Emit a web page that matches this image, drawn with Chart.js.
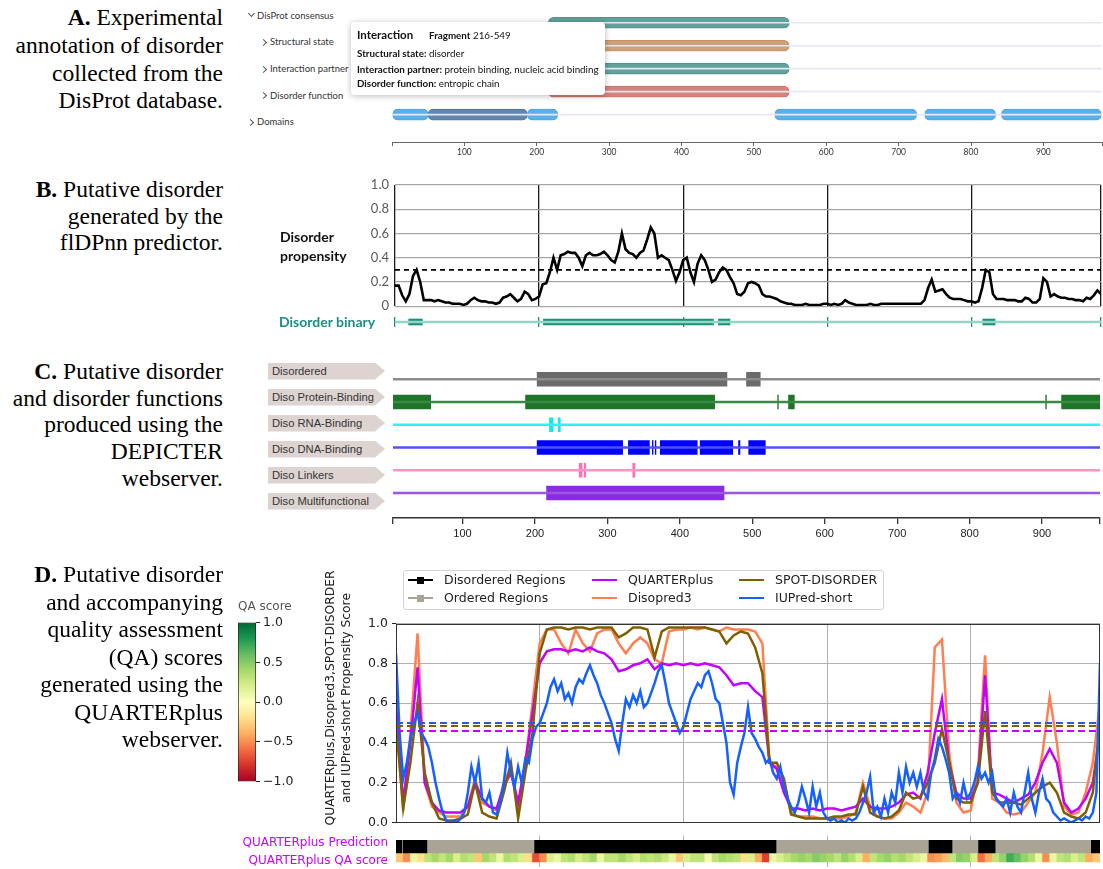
<!DOCTYPE html>
<html><head><meta charset="utf-8"><title>Disorder annotation panels</title>
<script src="https://cdn.jsdelivr.net/npm/chart.js@4.4.1/dist/chart.umd.min.js"></script>
<style>
html,body{margin:0;padding:0;background:#fff;}
#page{position:relative;width:1103px;height:869px;overflow:hidden;background:#fff;}
#charts canvas{position:absolute;}
.ov{position:absolute;z-index:2;white-space:nowrap;}
.cap{position:absolute;z-index:2;left:0;width:223px;text-align:right;font-family:"Liberation Serif","Times New Roman",serif;font-size:23.5px;color:#000;white-space:nowrap;}
.alab{font-family:Lato,sans-serif;font-size:9.5px;color:#333;height:12px;line-height:12px;}
.chev{position:absolute;z-index:2;width:4px;height:4px;border-right:1.2px solid #555;border-bottom:1.2px solid #555;}
.down{transform:rotate(45deg);} .right{transform:rotate(-45deg);}
#tip{position:absolute;z-index:3;left:351px;top:22px;width:254px;height:73px;background:#fff;border-radius:4px;box-shadow:0 1px 6px rgba(0,0,0,0.28);font-family:Lato,sans-serif;color:#111;}
#tip div{position:absolute;left:6px;white-space:nowrap;font-size:9.8px;height:12px;line-height:12px;}
.blab{font-family:Lato,sans-serif;font-weight:bold;font-size:14px;color:#111;}
.cbox{position:absolute;z-index:2;left:268px;width:117px;height:17px;background:#ddd4d1;clip-path:polygon(0 0,107px 0,117px 50%,107px 100%,0 100%);font-family:"Liberation Sans",Arial,sans-serif;font-size:11.2px;color:#333;line-height:17px;padding-left:4px;box-sizing:border-box;white-space:nowrap;}
.dl{font-family:"DejaVu Sans",sans-serif;font-size:12.5px;color:#222;height:16px;line-height:16px;}
#leg{position:absolute;z-index:2;left:403px;top:570px;width:481px;height:40px;border:1px solid #d4d4d4;border-radius:3px;box-sizing:border-box;background:#fff;}
.lh{position:absolute;z-index:3;height:2px;width:25px;}
.lm{position:absolute;z-index:3;width:7px;height:7px;}
.strip{font-family:"DejaVu Sans",sans-serif;font-size:12px;color:#cc00ff;height:16px;line-height:16px;text-align:right;}
</style></head>
<body><div id="page"><div id="charts"></div>

<div class="cap" style="top:4px;line-height:27.8px"><b>A.</b> Experimental<br>annotation of disorder<br>collected from the<br>DisProt database.</div>
<div class="cap" style="top:176px;line-height:26.7px"><b>B.</b> Putative disorder<br>generated by the<br>flDPnn predictor.</div>
<div class="cap" style="top:358px;line-height:26.7px"><b>C.</b> Putative disorder<br>and disorder functions<br>produced using the<br>DEPICTER<br>webserver.</div>
<div class="cap" style="top:561px;line-height:27.5px"><b>D.</b> Putative disorder<br>and accompanying<br>quality assessment<br>(QA) scores<br>generated using the<br>QUARTERplus<br>webserver.</div>

<!-- Panel A row labels -->
<div class="chev down" style="left:249px;top:11px"></div>
<div class="ov alab" style="left:257px;top:9.5px">DisProt consensus</div>
<div class="chev right" style="left:261px;top:40px"></div>
<div class="ov alab" style="left:270px;top:36px">Structural state</div>
<div class="chev right" style="left:261px;top:67px"></div>
<div class="ov alab" style="left:270px;top:63px">Interaction partner</div>
<div class="chev right" style="left:261px;top:93px"></div>
<div class="ov alab" style="left:270px;top:89.5px">Disorder function</div>
<div class="chev right" style="left:248px;top:120px"></div>
<div class="ov alab" style="left:257px;top:116px">Domains</div>

<div id="tip">
  <div style="top:6px;font-size:11.5px;font-weight:bold;height:14px;line-height:14px">Interaction</div>
  <div style="left:78px;top:7px"><b>Fragment</b> 216-549</div>
  <div style="top:25px"><b>Structural state:</b> disorder</div>
  <div style="top:41px"><b>Interaction partner:</b> protein binding, nucleic acid binding</div>
  <div style="top:55px"><b>Disorder function:</b> entropic chain</div>
</div>

<!-- Panel B labels -->
<div class="ov blab" style="left:280px;top:227px;line-height:19px">Disorder<br>propensity</div>
<div class="ov blab" style="left:279px;top:313px;color:#1a8f82;line-height:17px">Disorder binary</div>

<!-- Panel C labels -->
<div class="cbox" style="top:362.5px">Disordered</div>
<div class="cbox" style="top:388.5px">Diso Protein-Binding</div>
<div class="cbox" style="top:414.5px">Diso RNA-Binding</div>
<div class="cbox" style="top:440.5px">Diso DNA-Binding</div>
<div class="cbox" style="top:466.5px">Diso Linkers</div>
<div class="cbox" style="top:492.5px">Diso Multifunctional</div>

<!-- Panel D labels -->
<div class="ov dl" style="left:238px;top:598px;color:#555;font-size:12px">QA score</div>
<div class="ov dl" style="left:168px;top:682px;width:340px;height:32px;text-align:center;transform:rotate(-90deg);transform-origin:center;font-size:12.3px">QUARTERplus,Disopred3,SPOT-DISORDER<br>and IUPred-short Propensity Score</div>
<div class="ov strip" style="right:715px;top:834px">QUARTERplus Prediction</div>
<div class="ov strip" style="right:715px;top:852px">QUARTERplus QA score</div>

<div id="leg"></div>
<div class="lh" style="left:408px;top:579px;background:#000"></div><div class="lm" style="left:417px;top:576.5px;background:#000"></div>
<div class="ov dl" style="left:444px;top:572px">Disordered Regions</div>
<div class="lh" style="left:408px;top:597px;background:#a9a496"></div><div class="lm" style="left:417px;top:594.5px;background:#a9a496"></div>
<div class="ov dl" style="left:444px;top:590px">Ordered Regions</div>
<div class="lh" style="left:592px;top:579px;background:#c400ff"></div>
<div class="ov dl" style="left:628px;top:572px">QUARTERplus</div>
<div class="lh" style="left:592px;top:597px;background:#ff7f50"></div>
<div class="ov dl" style="left:628px;top:590px">Disopred3</div>
<div class="lh" style="left:739px;top:579px;background:#7f6000"></div>
<div class="ov dl" style="left:775px;top:572px">SPOT-DISORDER</div>
<div class="lh" style="left:739px;top:597px;background:#1560ff"></div>
<div class="ov dl" style="left:775px;top:590px">IUPred-short</div>

</div>
<script>
// ===================== DATA =====================
// Panel A (DisProt)
const A_MAX = 981;
const A_ROWS = ['DisProt consensus','Structural state','Interaction partner','Disorder function','Domains'];
const A_FRAGMENT = [216, 549];
const A_DOMAINS_LIGHT = [[1,50],[187,229],[529,725],[736,834],[842,980]];
const A_DOMAINS_DARK = [[50,187]];
const AXIS_TICKS = [100,200,300,400,500,600,700,800,900];

// Panel B (flDPnn), one value every 5 residues from 0 to 980
const B_STEP = 5;
const FIDPNN = [
 0.17,0.17,0.09,0.04,0.10,0.25,0.30,0.20,0.05,0.05,0.05,0.04,0.05,0.04,0.03,0.03,0.02,0.02,0.02,0.01,
 0.02,0.05,0.07,0.05,0.04,0.04,0.03,0.03,0.02,0.03,0.07,0.08,0.10,0.07,0.04,0.06,0.12,0.10,0.05,0.06,
 0.08,0.18,0.19,0.28,0.40,0.30,0.42,0.43,0.45,0.44,0.44,0.40,0.33,0.42,0.44,0.42,0.42,0.43,0.45,0.42,
 0.38,0.36,0.45,0.60,0.47,0.44,0.43,0.40,0.44,0.46,0.55,0.65,0.60,0.40,0.42,0.40,0.38,0.30,0.21,0.28,
 0.38,0.40,0.28,0.20,0.35,0.42,0.38,0.30,0.20,0.22,0.28,0.32,0.30,0.24,0.19,0.10,0.09,0.12,0.19,0.20,
 0.19,0.17,0.10,0.08,0.08,0.07,0.06,0.04,0.03,0.02,0.02,0.01,0.01,0.01,0.02,0.01,0.01,0.01,0.01,0.02,
 0.02,0.01,0.02,0.01,0.02,0.05,0.03,0.02,0.01,0.01,0.01,0.01,0.02,0.01,0.01,0.02,0.02,0.02,0.02,0.02,
 0.02,0.02,0.02,0.02,0.02,0.02,0.02,0.05,0.15,0.22,0.12,0.13,0.14,0.10,0.07,0.06,0.06,0.06,0.05,0.04,
 0.04,0.03,0.04,0.15,0.30,0.28,0.10,0.06,0.06,0.06,0.05,0.05,0.05,0.04,0.04,0.07,0.06,0.03,0.03,0.06,
 0.23,0.20,0.08,0.10,0.08,0.07,0.07,0.06,0.06,0.05,0.05,0.04,0.07,0.06,0.09,0.13,0.10
];
const FIDPNN_THRESHOLD = 0.3;
const B_BINARY = [[19,38],[206,442],[449,465],[816,833]];
const B_VLINES = [0,200,400,600,800,980];
const B_YTICKS = [0,0.2,0.4,0.6,0.8,1.0];

// Panel C (DEPICTER)
const C_DISORDERED = [[203,465],[492,511]];
const C_PROTEIN = [[4,56],[187,448],[535,536],[550,558],[905,906],[927,980]];
const C_RNA = [[220,225],[232,235]];
const C_DNA = [[203,321],[329,358],[362,363],[366,367],[373,424],[428,473],[481,483],[495,518]];
const C_LINKERS = [[261,265],[268,270],[335,338]];
const C_MULTI = [[216,461]];

// Panel D (QUARTERplus), one value every 10 residues from 0 to 980
const D_STEP = 10;
const DISOPRED3 = [
 0.55,0.06,0.45,0.95,0.20,0.08,0.05,0.03,0.03,0.03,
 0.08,0.22,0.10,0.08,0.06,0.20,0.28,0.08,0.30,0.60,
 0.90,0.97,0.97,0.90,0.85,0.97,0.90,0.86,0.95,0.97,
 0.97,0.90,0.85,0.90,0.93,0.90,0.82,0.80,0.96,0.97,
 0.97,0.98,0.97,0.98,0.97,0.96,0.98,0.97,0.97,0.97,
 0.96,0.90,0.30,0.28,0.20,0.05,0.03,0.03,0.03,0.02,
 0.02,0.02,0.02,0.03,0.05,0.20,0.08,0.03,0.02,0.02,
 0.05,0.10,0.08,0.05,0.15,0.88,0.92,0.35,0.10,0.05,
 0.06,0.25,0.84,0.12,0.10,0.05,0.04,0.05,0.10,0.15,
 0.35,0.63,0.40,0.08,0.04,0.05,0.15,0.30,0.60
];
const QUARTERPLUS = [
 0.60,0.10,0.40,0.78,0.20,0.10,0.06,0.05,0.05,0.05,
 0.08,0.20,0.12,0.08,0.07,0.18,0.25,0.10,0.30,0.55,
 0.80,0.86,0.87,0.87,0.86,0.87,0.86,0.88,0.86,0.85,
 0.82,0.76,0.77,0.79,0.80,0.82,0.77,0.80,0.79,0.80,
 0.79,0.80,0.79,0.80,0.79,0.78,0.74,0.69,0.70,0.70,
 0.66,0.63,0.30,0.27,0.15,0.07,0.07,0.06,0.07,0.06,
 0.07,0.07,0.06,0.07,0.08,0.12,0.08,0.07,0.07,0.08,
 0.10,0.14,0.15,0.12,0.25,0.45,0.62,0.30,0.15,0.12,
 0.12,0.20,0.74,0.15,0.14,0.12,0.10,0.12,0.14,0.20,
 0.30,0.37,0.30,0.10,0.05,0.07,0.12,0.20,0.45
];
const SPOT_DISORDER = [
 0.50,0.07,0.30,0.60,0.25,0.10,0.02,0.01,0.01,0.02,
 0.04,0.20,0.05,0.03,0.02,0.15,0.30,0.02,0.25,0.45,
 0.85,0.97,0.98,0.98,0.97,0.98,0.98,0.97,0.98,0.98,
 0.98,0.93,0.95,0.98,0.98,0.97,0.83,0.96,0.98,0.98,
 0.98,0.98,0.98,0.98,0.97,0.96,0.90,0.94,0.96,0.95,
 0.88,0.75,0.30,0.30,0.22,0.04,0.03,0.02,0.02,0.02,
 0.02,0.03,0.03,0.04,0.04,0.18,0.05,0.03,0.02,0.03,
 0.06,0.15,0.12,0.13,0.20,0.30,0.47,0.30,0.12,0.10,
 0.10,0.20,0.56,0.15,0.10,0.10,0.10,0.09,0.12,0.15,
 0.18,0.20,0.15,0.05,0.03,0.02,0.05,0.15,0.50
];
// IUPred-short, one value every 5 residues from 0 to 980
const IU_STEP = 5;
const IUPRED_SHORT = [
 0.85,0.45,0.22,0.30,0.42,0.50,0.55,0.45,0.42,0.38,0.30,0.20,0.12,0.05,0.01,0.00,0.01,0.00,0.02,0.05,
 0.15,0.28,0.20,0.30,0.12,0.10,0.15,0.05,0.04,0.10,0.20,0.35,0.25,0.18,0.28,0.20,0.32,0.30,0.42,0.48,
 0.50,0.55,0.60,0.68,0.72,0.66,0.70,0.62,0.65,0.60,0.68,0.72,0.70,0.75,0.79,0.74,0.70,0.64,0.60,0.55,
 0.50,0.42,0.36,0.50,0.62,0.58,0.64,0.60,0.66,0.58,0.60,0.65,0.70,0.76,0.79,0.70,0.60,0.55,0.50,0.45,
 0.48,0.55,0.62,0.66,0.70,0.68,0.74,0.76,0.70,0.62,0.60,0.50,0.40,0.20,0.14,0.30,0.38,0.45,0.58,0.45,
 0.42,0.38,0.35,0.30,0.32,0.25,0.22,0.28,0.18,0.12,0.08,0.05,0.10,0.18,0.12,0.05,0.18,0.08,0.15,0.05,
 0.02,0.01,0.02,0.00,0.01,0.00,0.02,0.01,0.02,0.05,0.10,0.15,0.23,0.05,0.08,0.03,0.12,0.05,0.15,0.10,
 0.25,0.15,0.28,0.20,0.25,0.18,0.25,0.15,0.12,0.25,0.32,0.42,0.38,0.32,0.25,0.12,0.15,0.10,0.20,0.12,
 0.15,0.20,0.28,0.22,0.25,0.20,0.25,0.12,0.10,0.08,0.12,0.05,0.15,0.08,0.05,0.15,0.25,0.12,0.05,0.15,
 0.22,0.12,0.10,0.05,0.03,0.01,0.02,0.01,0.00,0.01,0.02,0.01,0.03,0.02,0.05,0.15,0.80
];
const T_DISOPRED3 = 0.50, T_IUPRED = 0.50, T_SPOT = 0.485, T_QUARTER = 0.46;
const D_YTICKS = [0,0.2,0.4,0.6,0.8,1.0];
const D_VLINES = [200,400,600,800];
const PRED_DISORDERED = [[0,8],[10,43],[193,529],[742,774],[811,834],[968,980]];
const PRED_ORDERED = [[8,10],[43,193],[529,742],[774,811],[834,968]];
// QA score per 10-residue window
const QA_SCORE = [
 -0.3,-0.5,0.1,-0.2,0.3,0.4,0.3,0.4,0.2,0.35,
 0.3,-0.3,0.4,0.3,0.1,0.35,0.3,0.2,-0.2,-0.7,
 -0.5,0.2,0.1,0.3,0.35,0.2,0.3,0.4,0.1,0.3,
 0.3,0.4,0.3,0.2,0.35,0.3,0.35,0.25,0.1,-0.3,
 0.2,0.3,0.3,0.05,0.3,0.4,0.35,0.3,-0.2,0.2,
 -0.4,-0.75,0.1,0.2,0.3,0.4,0.45,0.4,0.5,0.45,
 0.4,0.3,0.45,0.35,0.2,-0.4,0.3,0.4,0.45,0.35,
 0.4,0.3,0.2,0.1,-0.5,-0.45,-0.35,0.3,0.5,0.45,
 0.2,-0.6,-0.4,0.3,0.45,0.7,0.6,0.45,0.35,0.1,
 -0.5,0.1,0.3,0.35,0.2,0.3,-0.4,-0.3
];
const CB_TICKS = [-1,-0.5,0,0.5,1];

// ===================== HELPERS =====================
Chart.defaults.animation = false;
Chart.defaults.responsive = false;
Chart.defaults.maintainAspectRatio = false;
Chart.defaults.events = [];
Chart.defaults.plugins.legend.display = false;
Chart.defaults.plugins.tooltip.enabled = false;

const RDYLGN = ['#a50026','#d73027','#f46d43','#fdae61','#fee08b','#ffffbf','#d9ef8b','#a6d96a','#66bd63','#1a9850','#006837'];
function hexRgb(h){return [1,3,5].map(i=>parseInt(h.slice(i,i+2),16));}
function rdylgn(v){
  const t=Math.max(0,Math.min(10,(v+1)*5)); const i=Math.min(9,Math.floor(t)); const f=t-i;
  const a=hexRgb(RDYLGN[i]), b=hexRgb(RDYLGN[i+1]);
  return 'rgb('+a.map((c,k)=>Math.round(c+(b[k]-c)*f)).join(',')+')';
}
function cv(id,l,t,w,h){
  const c=document.createElement('canvas'); c.id=id; c.width=w; c.height=h;
  Object.assign(c.style,{left:l+'px',top:t+'px',width:w+'px',height:h+'px'});
  document.getElementById('charts').appendChild(c); return c;
}
const segs=(arr,row)=>arr.map(([a,b])=>({x:[a,b],y:row}));
const setTicks=vals=>(s)=>{s.ticks=vals.map(v=>({value:v}));};
const barDs=(data,color,thick,extra)=>Object.assign({data,backgroundColor:color,barThickness:thick,grouped:false,borderSkipped:false,borderWidth:0},extra||{});

const framePlugin={id:'frame',afterDraw(ch){const a=ch.chartArea,c=ch.ctx;c.save();c.strokeStyle='#333';c.lineWidth=1;c.strokeRect(Math.round(a.left)+0.5,Math.round(a.top)+0.5,Math.round(a.right-a.left)-1,Math.round(a.bottom-a.top)-1);c.restore();}};

// ===================== PANEL A =====================
new Chart(cv('chartA',380,0,723,160),{
  type:'bar',
  data:{datasets:[
    barDs(A_ROWS.map((_,i)=>({x:[0,A_MAX],y:i})),'#e6e6f4',1),
    barDs(segs([A_FRAGMENT],0),'#62a29a',11,{borderRadius:6,borderWidth:1,borderColor:'#53928a'}),
    barDs(segs([A_FRAGMENT],1),'#cfa179',11,{borderRadius:6,borderWidth:1,borderColor:'#c0916a'}),
    barDs(segs([A_FRAGMENT],2),'#62a29a',11,{borderRadius:6,borderWidth:1,borderColor:'#53928a'}),
    barDs(segs([A_FRAGMENT],3),'#d8827b',11,{borderRadius:6,borderWidth:1,borderColor:'#c9736c'}),
    barDs(segs(A_DOMAINS_LIGHT,4),'#5cb0ea',11,{borderRadius:5,borderWidth:1,borderColor:'#4ea3de'}),
    barDs(segs(A_DOMAINS_DARK,4),'#5f87b1',11,{borderRadius:5,borderWidth:1,borderColor:'#4f76a0'})
  ]},
  options:{indexAxis:'y',layout:{padding:{left:12,right:0,top:0,bottom:0}},
    scales:{
      y:{type:'linear',reverse:true,min:-0.55,max:4.75,display:false},
      x:{type:'linear',min:0,max:A_MAX,afterBuildTicks:setTicks([0,...AXIS_TICKS,A_MAX]),afterFit:s=>{s.height=18;},
         ticks:{autoSkip:false,maxRotation:0,callback:v=>AXIS_TICKS.includes(v)?String(v):'',font:{family:'Lato',size:8.5},color:'#333',padding:1},
         grid:{drawOnChartArea:false,tickLength:4,color:'#666'},border:{color:'#666'}}
    }}
});

// ===================== PANEL B =====================
new Chart(cv('chartB',330,170,773,150),{
  type:'line',
  data:{datasets:[
    {data:FIDPNN.map((v,i)=>({x:i*B_STEP,y:v})),borderColor:'#000',borderWidth:2.6,pointRadius:0,tension:0,order:1},
    {data:[{x:0,y:FIDPNN_THRESHOLD},{x:980,y:FIDPNN_THRESHOLD}],borderColor:'#000',borderWidth:1.8,borderDash:[5,4],pointRadius:0,order:0}
  ]},
  options:{layout:{padding:{left:0,right:2,top:15,bottom:6}},
    scales:{
      x:{type:'linear',min:0,max:980,afterBuildTicks:setTicks(B_VLINES),afterFit:s=>{s.height=0;},ticks:{display:false},
         grid:{color:'#1a1a1a',lineWidth:1.3,drawTicks:false},border:{display:false}},
      y:{type:'linear',min:0,max:1,afterBuildTicks:setTicks(B_YTICKS),afterFit:s=>{s.width=65;},
         ticks:{callback:v=>v===0?'0':v.toFixed(1),font:{family:'Lato',size:13},color:'#595959',padding:6},
         grid:{color:'#a6a6a6',lineWidth:1.3,drawTicks:false},border:{display:false}}
    }}
});
new Chart(cv('chartBbin',380,312,723,20),{
  type:'bar',
  data:{datasets:[
    barDs([{x:[0,980],y:0}],'#93d5c7',2),
    barDs(segs(B_BINARY,0),'#1b9179',6)
  ]},
  options:{indexAxis:'y',layout:{padding:{left:15,right:2,top:5,bottom:5}},
    scales:{
      y:{type:'linear',min:-1,max:1,display:false},
      x:{type:'linear',min:0,max:980,afterBuildTicks:setTicks(B_VLINES),afterFit:s=>{s.height=0;},ticks:{display:false},
         grid:{color:'#1b9179',lineWidth:1.3,drawTicks:false},border:{display:false}}
    }}
});

// ===================== PANEL C =====================
const C_TRACKS=[
  {segs:C_DISORDERED,dark:'#6b6b6b',light:'#8c8c8c'},
  {segs:C_PROTEIN,dark:'#1e7428',light:'#3b8a44'},
  {segs:C_RNA,dark:'#11e8e8',light:'#2ef3f3'},
  {segs:C_DNA,dark:'#0000ff',light:'#5050ff'},
  {segs:C_LINKERS,dark:'#ff6fb5',light:'#ff94c8'},
  {segs:C_MULTI,dark:'#8a2be2',light:'#9b55e0'}
];
const cDatasets=[];
C_TRACKS.forEach((t,i)=>{cDatasets.push(barDs([{x:[4,980],y:i}],t.light,2));});
C_TRACKS.forEach((t,i)=>{cDatasets.push(barDs(segs(t.segs,i),t.dark,14));});
new Chart(cv('chartC',380,350,723,200),{
  type:'bar',
  data:{datasets:cDatasets},
  options:{indexAxis:'y',layout:{padding:{left:13,right:2,top:5.4,bottom:0}},
    scales:{
      y:{type:'linear',reverse:true,min:-0.6,max:5.65,display:false},
      x:{type:'linear',min:4,max:980,afterBuildTicks:setTicks([4,...AXIS_TICKS,980]),afterFit:s=>{s.height=32;},
         ticks:{autoSkip:false,maxRotation:0,callback:v=>AXIS_TICKS.includes(v)?String(v):'',font:{family:'Liberation Sans',size:11},color:'#222',padding:3},
         grid:{drawOnChartArea:false,tickLength:6,color:'#333',lineWidth:1.3},border:{color:'#333',width:1.5}}
    }}
});

// ===================== PANEL D =====================
const dLine=(vals,step,color,order)=>({data:vals.map((v,i)=>({x:i*step,y:v})),borderColor:color,borderWidth:2.5,pointRadius:0,tension:0,order});
const dThr=(v,color,order)=>({data:[{x:0,y:v},{x:980,y:v}],borderColor:color,borderWidth:2,borderDash:[7,4],pointRadius:0,order});
new Chart(cv('chartD',300,612,803,222),{
  type:'line',
  data:{datasets:[
    dLine(IUPRED_SHORT,IU_STEP,'#1560ff',5),
    dLine(SPOT_DISORDER,D_STEP,'#7f6000',6),
    dLine(QUARTERPLUS,D_STEP,'#c400ff',7),
    dLine(DISOPRED3,D_STEP,'#ff7f50',8),
    dThr(T_DISOPRED3,'#ff7f50',4),
    dThr(T_SPOT,'#7f6000',3),
    dThr(T_QUARTER,'#c400ff',2),
    dThr(T_IUPRED,'#2a5cd6',1)
  ]},
  options:{layout:{padding:{left:0,right:3,top:9,bottom:5}},
    scales:{
      x:{type:'linear',min:0,max:980,afterBuildTicks:setTicks(D_VLINES),afterFit:s=>{s.height=0;},ticks:{display:false},
         grid:{color:'#b0b0b0',lineWidth:1,drawTicks:false},border:{display:false}},
      y:{type:'linear',min:0,max:1,afterBuildTicks:setTicks(D_YTICKS),afterFit:s=>{s.width=96;},
         ticks:{callback:v=>v.toFixed(1),font:{family:'DejaVu Sans',size:12.5},color:'#222',padding:4},
         grid:{color:'#b0b0b0',lineWidth:1,tickLength:4,tickColor:'#222'},border:{display:false}}
    }},
  plugins:[framePlugin]
});
new Chart(cv('chartDs',380,833,723,36),{
  type:'bar',
  data:{datasets:[
    barDs(segs(PRED_DISORDERED,0),'#000000',12.5),
    barDs(segs(PRED_ORDERED,0),'#a9a496',12.5),
    barDs(QA_SCORE.map((v,i)=>({x:[i*D_STEP,i*D_STEP+D_STEP],y:1})),QA_SCORE.map(rdylgn),13)
  ]},
  options:{indexAxis:'y',layout:{padding:{left:16,right:3,top:2.7,bottom:2.5}},
    scales:{
      y:{type:'linear',reverse:true,min:-0.36,max:1.4,display:false},
      x:{type:'linear',min:0,max:980,afterBuildTicks:setTicks(D_VLINES),afterFit:s=>{s.height=0;},ticks:{display:false},
         grid:{color:'#b0b0b0',lineWidth:1,drawTicks:false},border:{display:false}}
    }}
});
// Colorbar
new Chart(cv('chartCB',200,612,100,180),{
  type:'bar',
  data:{labels:['QA score'],datasets:[{data:[[-1,1]],barPercentage:1,categoryPercentage:1,borderColor:'#222',borderWidth:1,borderSkipped:false,
    backgroundColor:(c)=>{const a=c.chart.chartArea;if(!a)return RDYLGN[5];const g=c.chart.ctx.createLinearGradient(0,a.bottom,0,a.top);RDYLGN.forEach((col,i)=>g.addColorStop(i/10,col));return g;}}]},
  options:{layout:{padding:{left:38,right:0,top:9,bottom:6}},
    scales:{
      x:{display:false},
      y:{position:'right',min:-1,max:1,afterBuildTicks:setTicks(CB_TICKS),afterFit:s=>{s.width=44;},
         ticks:{callback:v=>(v<0?'\u2212':'')+Math.abs(v).toFixed(1),font:{family:'DejaVu Sans',size:12.5},color:'#222',padding:3},
         grid:{drawOnChartArea:false,tickLength:4,tickColor:'#222'},border:{display:false}}
    }}
});
</script>
</body></html>
